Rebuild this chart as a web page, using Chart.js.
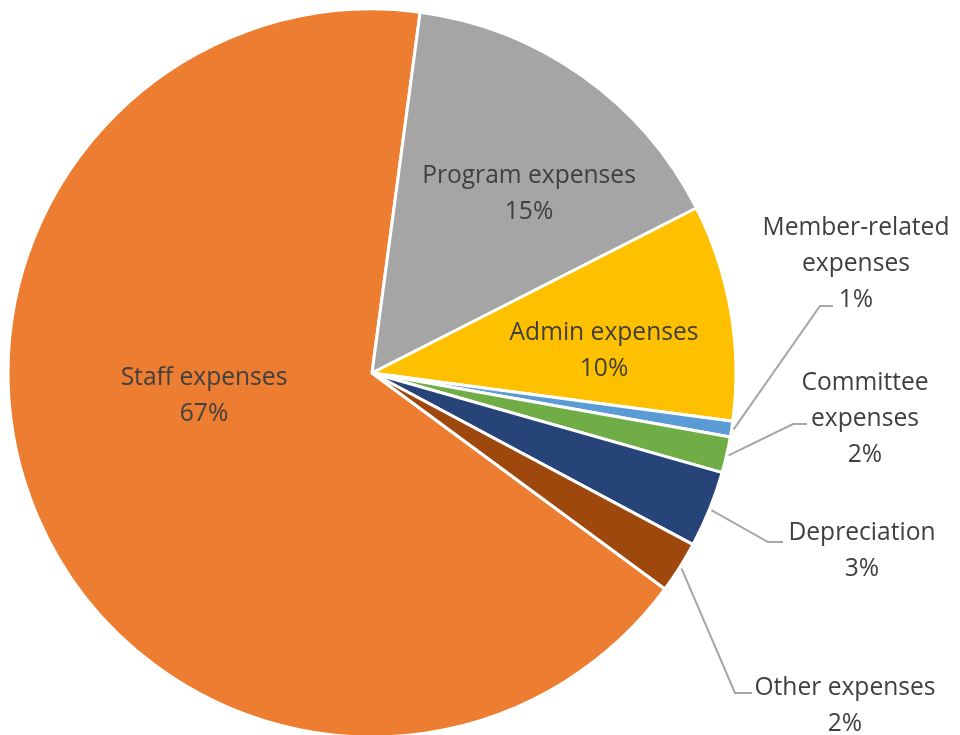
<!DOCTYPE html>
<html><head><meta charset="utf-8">
<script src="https://cdn.jsdelivr.net/npm/chart.js@4.4.1/dist/chart.umd.min.js"></script>
<style>
html,body{margin:0;padding:0;background:#fff;overflow:hidden}
#wrap{position:relative;width:960px;height:735px}
</style>
</head><body>
<div id="wrap"><canvas id="c" width="960" height="735"></canvas></div>
<script>
const categories = ['Staff expenses','Program expenses','Admin expenses','Member-related expenses','Committee expenses','Depreciation','Other expenses'];
const shares = [67.0, 15.4, 9.6, 0.7, 1.6, 3.4, 2.3];
const labelLines = [['Staff expenses'],['Program expenses'],['Admin expenses'],['Member-related','expenses'],['Committee','expenses'],['Depreciation'],['Other expenses']];
const colors = ['#ED7D31','#A5A5A5','#FFC000','#5B9BD5','#70AD47','#264478','#9E480E'];

const total = shares.reduce((a,b)=>a+b,0);

// label placement (annotation layout, not data)
const labelLayout = [
  {x:204, y:385},
  {x:529, y:183},
  {x:604, y:340},
  {x:856, y:235, elbow:[820,306], end:[833,306]},
  {x:865, y:390, elbow:[793,424], end:[807,424]},
  {x:862, y:540, elbow:[768,542], end:[783,542]},
  {x:845, y:695, elbow:[735,693], end:[752,693]}
];

const sliceLabels = {
  id:'sliceLabels',
  afterDatasetsDraw(chart, args, opts){
    const ctx = chart.ctx;
    const meta = chart.getDatasetMeta(0);
    ctx.save();
    ctx.font = opts.font;
    ctx.fillStyle = opts.color;
    ctx.textAlign = 'center';
    ctx.textBaseline = 'alphabetic';
    meta.data.forEach((arc, i) => {
      const L = opts.layout[i];
      const pct = Math.round(shares[i] / total * 100) + '%';
      const lines = [...labelLines[i], pct];
      if (L.elbow) {
        const mid = (arc.startAngle + arc.endAngle) / 2;
        const r = arc.outerRadius + 2;
        ctx.beginPath();
        ctx.moveTo(arc.x + Math.cos(mid) * r, arc.y + Math.sin(mid) * r);
        ctx.lineTo(L.elbow[0], L.elbow[1]);
        ctx.lineTo(L.end[0], L.end[1]);
        ctx.strokeStyle = opts.lineColor;
        ctx.lineWidth = opts.lineWidth;
        ctx.stroke();
      }
      lines.forEach((t, k) => ctx.fillText(t, L.x, L.y + k * opts.lineHeight));
    });
    ctx.restore();
  }
};

new Chart(document.getElementById('c'), {
  type: 'pie',
  data: {
    labels: categories,
    datasets: [{
      data: shares,
      backgroundColor: colors,
      borderColor: '#ffffff',
      borderWidth: 3,
      clip: false
    }]
  },
  options: {
    responsive: false,
    animation: false,
    devicePixelRatio: 1,
    rotation: 7.6 - 360 * shares[0] / total,
    radius: 364,
    layout: { padding: { left: 0, right: 216, top: 11, bottom: 0 } },
    plugins: {
      legend: { display: false },
      tooltip: { enabled: false },
      sliceLabels: {
        layout: labelLayout,
        font: '24.6px "Open Sans"',
        color: '#404040',
        lineHeight: 36,
        lineColor: '#A6A6A6',
        lineWidth: 2
      }
    }
  },
  plugins: [sliceLabels]
});
</script>
</body></html>
